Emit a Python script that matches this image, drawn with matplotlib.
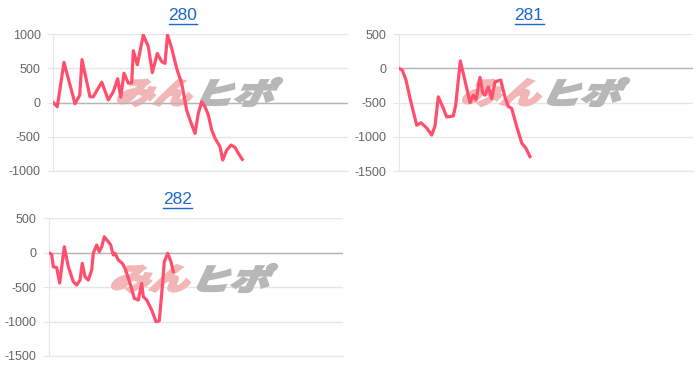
import matplotlib
matplotlib.use("Agg")
import matplotlib.pyplot as plt
from matplotlib.textpath import TextPath
from matplotlib.font_manager import FontProperties
from matplotlib.patches import PathPatch
from matplotlib.transforms import Affine2D
from matplotlib.lines import Line2D

plt.rcParams["axes.unicode_minus"] = False

# ---------------- data ----------------
titles = ["280", "281", "282"]

games_280 = [0, 109, 290, 589, 717, 779, 996, 1086, 1314, 1493, 1629, 1748, 1830, 1919,
             2036, 2128, 2172, 2280, 2443, 2579, 2688, 2823, 2943, 3032, 3100, 3214, 3350,
             3486, 3621, 3711, 3847, 3936, 4028, 4118, 4208, 4300, 4390, 4526, 4599, 4707,
             4824, 4932, 5022, 5131]
diff_280 = [0, -60, 590, -15, 110, 630, 86, 86, 300, 40, 160, 350, 80, 430,
            285, 290, 760, 555, 990, 820, 440, 720, 600, 575, 990, 795, 500,
            280, -110, -255, -450, -157, 10, -60, -180, -400, -520, -645, -840, -695,
            -620, -654, -740, -830]

games_281 = [0, 82, 183, 291, 474, 591, 746, 883, 973, 1062, 1182, 1291, 1471, 1536, 1662,
             1790, 1926, 2016, 2089, 2198, 2272, 2334, 2424, 2517, 2607, 2762, 2879, 2969,
             3062, 3198, 3334, 3451, 3560]
diff_281 = [0, -25, -170, -435, -830, -795, -870, -975, -840, -415, -560, -710, -695, -535, 110,
            -180, -500, -390, -460, -130, -360, -390, -270, -440, -195, -170, -420, -555,
            -585, -850, -1090, -1170, -1290]

games_282 = [0, 82, 125, 217, 299, 424, 533, 669, 761, 851, 913, 987, 1076, 1169, 1212, 1305,
             1375, 1441, 1511, 1620, 1685, 1756, 1802, 1892, 2001, 2074, 2210, 2327, 2436,
             2528, 2572, 2664, 2800, 2917, 3006, 3088, 3142, 3235, 3324, 3387]
diff_282 = [0, -25, -205, -215, -440, 87, -203, -421, -469, -397, -154, -349, -397, -251, -9, 112,
            15, 87, 232, 160, 112, -33, -9, -106, -154, -227, -445, -663, -687,
            -445, -639, -687, -832, -1002, -988, -494, -131, -9, -131, -276]

ylims = [(-1000, 1000), (-1500, 500), (-1500, 500)]
yticks = [[-1000, -500, 0, 500, 1000], [-1500, -1000, -500, 0, 500], [-1500, -1000, -500, 0, 500]]
x_max = 8000

# ---------------- style ----------------
W, H = 700, 370
LINE = "#ff4f6d"
GRID = "#e6e6e6"
ZERO = "#b5b5b5"
TICK = "#666666"
LINK = "#1a66cc"
FONT = "Liberation Sans"

fig = plt.figure(figsize=(W / 100, H / 100), dpi=100)


def box(l, t, r, b):
    return [l / W, 1 - b / H, (r - l) / W, (b - t) / H]


axes_px = [(53.3, 34.3, 348.0, 171.0), (399.3, 34.3, 693.0, 171.0), (48.7, 218.3, 343.0, 356.0)]
title_pos = [(183, 15.5), (529, 15.5), (177.5, 199.5)]
wm_boxes = [
    [(117, 78, 193, 107), (200, 77, 283, 107)],
    [(462, 78, 542, 107), (547, 77, 630, 107)],
    [(111, 264, 191, 293), (197, 263, 278, 293)],
]
series = [(games_280, diff_280), (games_281, diff_281), (games_282, diff_282)]

fp_wm = FontProperties(family="Noto Sans CJK JP", weight="black")


def watermark(ax, txt, bx, color):
    l, t, r, b = bx
    p = TextPath((0, 0), txt, size=40, prop=fp_wm)
    p = p.transformed(Affine2D().skew_deg(20, 0))
    ext = p.get_extents()
    sx = (r - l - 2) / ext.width
    sy = (b - t - 2) / ext.height
    tr = (Affine2D().translate(-ext.x0, -ext.y0).scale(sx, sy)
          .translate(l + 1, H - b + 1).scale(1 / W, 1 / H) + fig.transFigure)
    patch = PathPatch(p, transform=tr, facecolor=color, edgecolor=color, lw=1.6,
                      zorder=1, clip_on=False)
    ax.add_artist(patch)


title_texts = []
for i in range(3):
    ax = fig.add_axes(box(*axes_px[i]))
    ax.set_facecolor("none")
    xs, ys = series[i]
    ax.plot(xs, ys, color=LINE, lw=2.3, solid_joinstyle="round", zorder=4)
    ax.set_xlim(0, x_max)
    ax.set_ylim(*ylims[i])
    ax.set_yticks(yticks[i])
    ax.set_xticks([])
    ax.yaxis.grid(True, color=GRID, lw=1.0)
    ax.set_axisbelow(True)
    ax.axhline(0, color=ZERO, lw=1.0, zorder=2)
    for s in ["top", "right"]:
        ax.spines[s].set_visible(False)
    ax.spines["left"].set_color(GRID)
    ax.spines["bottom"].set_color(GRID)
    ax.tick_params(axis="y", length=4, color=GRID, pad=5, labelcolor=TICK, labelsize=9)
    for lab in ax.get_yticklabels():
        lab.set_fontfamily(FONT)
    tx, ty = title_pos[i]
    t = fig.text(tx / W, 1 - ty / H, titles[i], color=LINK, fontsize=12.5, family=FONT,
                 ha="center", va="center")
    title_texts.append(t)
    watermark(ax, "みん", wm_boxes[i][0], "#f2b6b6")
    watermark(ax, "ヒポ", wm_boxes[i][1], "#b7b7b7")

fig.canvas.draw()
r = fig.canvas.get_renderer()
for t in title_texts:
    bb = t.get_window_extent(r)
    y = bb.y0 - 1.0
    fig.add_artist(Line2D([bb.x0 / W, bb.x1 / W], [y / H, y / H], color=LINK, lw=1.0,
                          transform=fig.transFigure))

fig.savefig("out.png", dpi=100)
